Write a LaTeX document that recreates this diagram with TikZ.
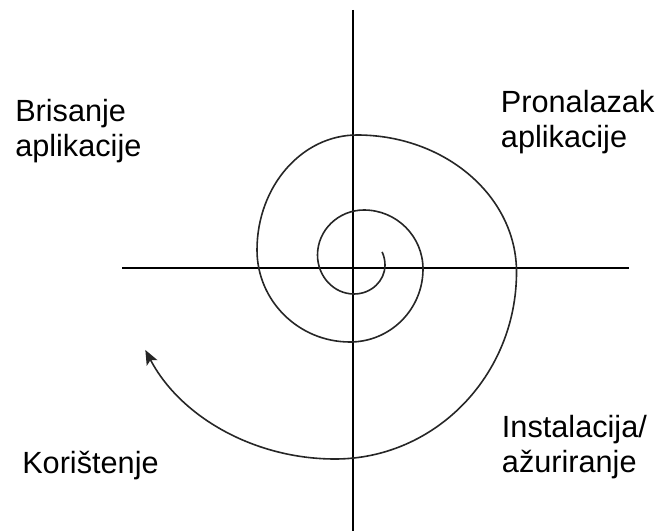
\documentclass[tikz,border=0pt]{standalone}
\usepackage{fontspec}
\setmainfont{Liberation Sans}
\usetikzlibrary{arrows.meta}
\begin{document}
\begin{tikzpicture}[x=0.75pt,y=-0.75pt,
  axisline/.style={line width=2pt,black},
  spiralline/.style={line width=1.2pt,black!85},
  lbl/.style={anchor=base west,inner sep=0pt,align=left,text=black,
    font=\fontsize{23}{26.5}\selectfont}]
\useasboundingbox (0,0) rectangle (657,531);
\coordinate (vtop) at (353,10);
\coordinate (vbot) at (353,531);
\coordinate (hleft) at (122,268);
\coordinate (hright) at (629,268);
\draw[axisline] (vtop) -- (vbot);
\draw[axisline] (hleft) -- (hright);
\coordinate (sstart) at (382.1,251.9);
\draw[spiralline,-{Stealth[length=11pt,width=9pt,inset=2.5pt]}]
  (sstart) arc[start angle=-25,end angle=0,radius=31]
  arc[start angle=0,end angle=90,x radius=31,y radius=29]
  arc[start angle=90,end angle=180,x radius=36.5,y radius=39]
  arc[start angle=180,end angle=270,x radius=46.5,y radius=45]
  arc[start angle=270,end angle=360,x radius=59,y radius=59]
  arc[start angle=0,end angle=90,x radius=73,y radius=73]
  arc[start angle=90,end angle=180,x radius=93,y radius=92]
  arc[start angle=180,end angle=270,x radius=100,y radius=115]
  arc[start angle=270,end angle=360,x radius=159.5,y radius=137]
  arc[start angle=0,end angle=90,x radius=181.5,y radius=187]
  arc[start angle=90,end angle=154.6,x radius=210,y radius=191];
\node[lbl] (brisanje) at (15,157) {Brisanje\\aplikacije};
\node[lbl] (pronalazak) at (500.7,148) {Pronalazak\\aplikacije};
\node[lbl] (instalacija) at (501.7,472.7) {Instalacija/\\ažuriranje};
\node[lbl] (koristenje) at (22,473) {Korištenje};
\end{tikzpicture}
\end{document}
